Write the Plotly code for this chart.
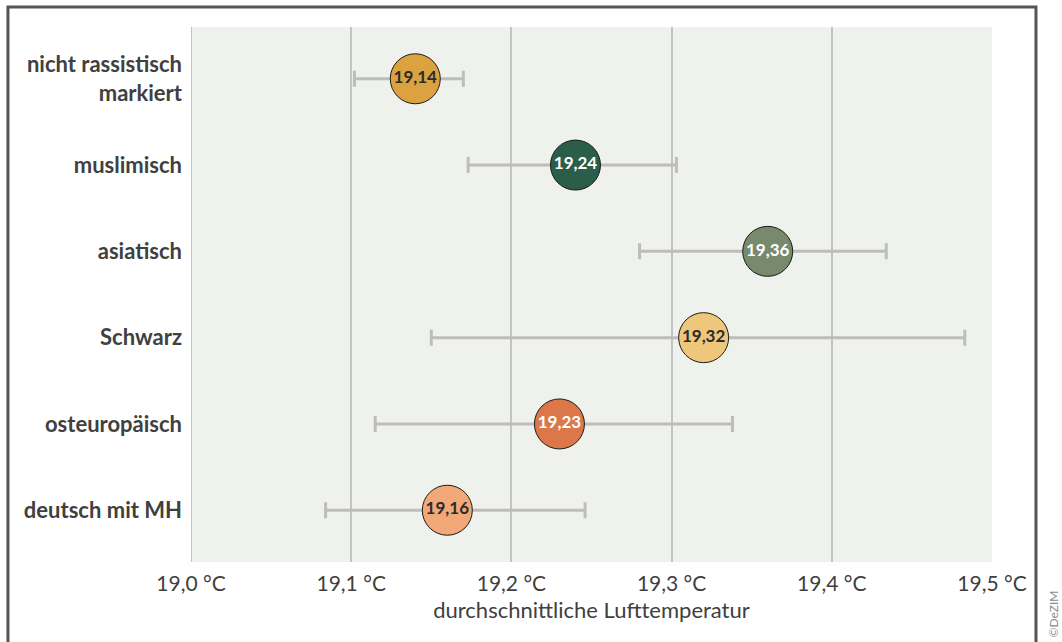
import plotly.graph_objects as go

# Gruppen (von oben nach unten)
groups = ["nicht rassistisch<br>markiert", "muslimisch", "asiatisch", "Schwarz",
          "osteuropäisch", "deutsch mit MH"]
mean_temp = [19.14, 19.24, 19.36, 19.32, 19.23, 19.16]
ci_low = [19.102, 19.173, 19.280, 19.150, 19.115, 19.084]
ci_high = [19.170, 19.303, 19.434, 19.483, 19.338, 19.246]
value_labels = ["19,14", "19,24", "19,36", "19,32", "19,23", "19,16"]
tick_vals = [19.0, 19.1, 19.2, 19.3, 19.4, 19.5]
tick_text = ["19,0 °C", "19,1 °C", "19,2 °C", "19,3 °C", "19,4 °C", "19,5 °C"]

dot_colors = ["#DBA23F", "#2A5E4A", "#788A6E", "#EEC77A", "#DB7748", "#F2A877"]
label_colors = ["#2B2B2B", "#FFFFFF", "#FFFFFF", "#2B2B2B", "#FFFFFF", "#2B2B2B"]

err_plus = [h - m for h, m in zip(ci_high, mean_temp)]
err_minus = [m - l for m, l in zip(mean_temp, ci_low)]

FONT = "Lato"

fig = go.Figure()
fig.add_trace(go.Scatter(
    x=mean_temp,
    y=groups,
    mode="markers+text",
    text=value_labels,
    textposition="middle center",
    textfont=dict(family=FONT, size=17, color=label_colors, weight="bold"),
    marker=dict(size=50, color=dot_colors, line=dict(color="#1A1A1A", width=1)),
    error_x=dict(type="data", symmetric=False, array=err_plus, arrayminus=err_minus,
                 color="#BDBDBD", thickness=3, width=8),
    hoverinfo="skip",
    showlegend=False,
    cliponaxis=False,
))

fig.update_layout(
    width=1062, height=642,
    margin=dict(l=191, r=70, t=27, b=80),
    paper_bgcolor="#FFFFFF",
    plot_bgcolor="#EFF1EC",
    font=dict(family=FONT, color="#404040"),
    xaxis=dict(
        range=[19.0, 19.5],
        tickvals=tick_vals,
        ticktext=tick_text,
        tickfont=dict(size=21, color="#404040"),
        showgrid=True, gridcolor="#C3C3C3", gridwidth=2,
        zeroline=False, showline=False,
        ticks="", ticklabelstandoff=7,
        title=dict(text="durchschnittliche Lufttemperatur",
                   font=dict(size=22, color="#404040"), standoff=8),
        fixedrange=True,
    ),
    yaxis=dict(
        categoryorder="array",
        categoryarray=groups,
        range=[5.6, -0.6],
        tickfont=dict(size=22, color="#404040", weight="bold"),
        showgrid=False, zeroline=False, showline=False,
        ticks="", ticklabelstandoff=8,
        fixedrange=True,
    ),
    shapes=[
        # Rahmen um die Grafik
        dict(type="rect", xref="paper", yref="paper",
             x0=-0.2285, x1=1.0549, y0=-0.16, y1=1.0374,
             line=dict(color="#555555", width=3), fillcolor="rgba(0,0,0,0)",
             layer="above"),
        # linke Gitterlinie am Achsenanfang
        dict(type="line", xref="x", yref="paper", x0=19.0, x1=19.0, y0=0, y1=1,
             line=dict(color="#C3C3C3", width=2), layer="below"),
    ],
    annotations=[
        dict(text="©DeZIM", xref="paper", yref="paper",
             x=1.0762, y=-0.1458, xanchor="center", yanchor="bottom",
             textangle=-90, showarrow=False,
             font=dict(size=12, color="#8A8A8A", family=FONT)),
    ],
)

fig.write_html("out.html")
